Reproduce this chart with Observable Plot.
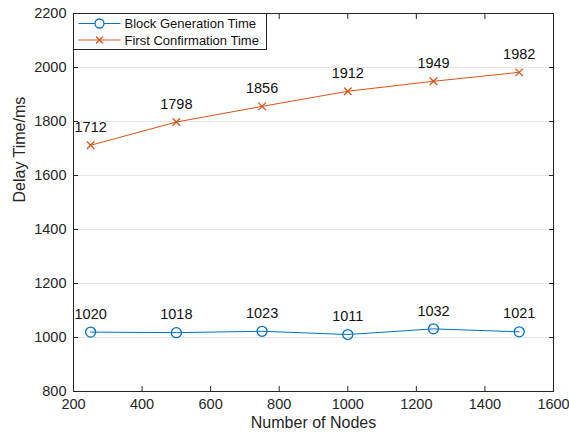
<!DOCTYPE html>
<html><head><meta charset="utf-8">
<script src="https://cdn.jsdelivr.net/npm/d3@7"></script>
<script src="https://cdn.jsdelivr.net/npm/@observablehq/plot@0.6"></script>
<style>body{margin:0;background:#fff;font-family:"Liberation Sans",Arial,sans-serif} svg{overflow:visible}</style>
</head><body><div id="chart"></div>
<script>
const nodes = [250, 500, 750, 1000, 1250, 1500];
const blockGen = [1020, 1018, 1023, 1011, 1032, 1021];
const firstConf = [1712, 1798, 1856, 1912, 1949, 1982];
const xTicks = [200, 400, 600, 800, 1000, 1200, 1400, 1600];
const yTicks = [800, 1000, 1200, 1400, 1600, 1800, 2000, 2200];
const seriesNames = ["Block Generation Time", "First Confirmation Time"];
const colors = ["#0072BD", "#D95319"];

const blue = nodes.map((n, i) => ({n, v: blockGen[i]}));
const orange = nodes.map((n, i) => ({n, v: firstConf[i]}));
const axisColor = "#262626";
const fmt = d => String(d);

const plot = Plot.plot({
  width: 569, height: 439,
  marginLeft: 73, marginRight: 16, marginTop: 13, marginBottom: 48,
  style: {fontFamily: "'Liberation Sans', Arial, sans-serif", fontSize: "14px", color: axisColor, background: "#fff", overflow: "visible"},
  x: {domain: [200, 1600]},
  y: {domain: [800, 2200]},
  marks: [
    Plot.gridY(yTicks, {stroke: "#e6e6e6", strokeOpacity: 1}),
    Plot.axisX(xTicks, {anchor: "bottom", tickSize: -5, tickPadding: 12, label: null, fontSize: 14.5, stroke: axisColor, tickFormat: fmt}),
    Plot.axisX(xTicks, {anchor: "top", tickSize: -5, label: null, tickFormat: () => "", stroke: axisColor}),
    Plot.axisY(yTicks, {anchor: "left", tickSize: -5, tickPadding: 12, label: null, fontSize: 14.5, stroke: axisColor, tickFormat: fmt}),
    Plot.axisY(yTicks, {anchor: "right", tickSize: -5, label: null, tickFormat: () => "", stroke: axisColor}),
    Plot.frame({stroke: axisColor, strokeWidth: 1}),
    Plot.line(blue, {x: "n", y: "v", stroke: colors[0], strokeWidth: 1}),
    Plot.dot(blue, {x: "n", y: "v", stroke: colors[0], fill: "none", r: 5, strokeWidth: 1.3}),
    Plot.line(orange, {x: "n", y: "v", stroke: colors[1], strokeWidth: 1}),
    Plot.dot(orange, {x: "n", y: "v", stroke: colors[1], symbol: "times", r: 3.5, strokeWidth: 1.3}),
    Plot.text(blue, {x: "n", y: "v", text: d => String(d.v), dy: -18, fontSize: 14.5, fill: "#111"}),
    Plot.text(orange, {x: "n", y: "v", text: d => String(d.v), dy: -18, fontSize: 14.5, fill: "#111"}),
    Plot.text(["Number of Nodes"], {frameAnchor: "bottom", dy: 36, fontSize: 16, fill: axisColor}),
    Plot.text(["Delay Time/ms"], {frameAnchor: "left", dx: -54, rotate: -90, fontSize: 16, fill: axisColor})
  ]
});
document.getElementById("chart").appendChild(plot);

// legend box inside top-left of plot
const svg = d3.select(plot);
const g = svg.append("g").attr("transform", "translate(73.5,13.5)").attr("text-anchor", "start");
g.append("rect").attr("width", 193).attr("height", 36).attr("fill", "#fff").attr("stroke", axisColor).attr("stroke-width", 1);
seriesNames.forEach((name, i) => {
  const y = 10 + i * 16.5;
  g.append("line").attr("x1", 5).attr("x2", 47).attr("y1", y).attr("y2", y).attr("stroke", colors[i]).attr("stroke-width", 1);
  if (i === 0) {
    g.append("circle").attr("cx", 26).attr("cy", y).attr("r", 4.5).attr("fill", "#fff").attr("stroke", colors[i]).attr("stroke-width", 1.3);
  } else {
    g.append("path").attr("d", `M22.5,${y-3.5}L29.5,${y+3.5}M22.5,${y+3.5}L29.5,${y-3.5}`).attr("stroke", colors[i]).attr("stroke-width", 1.3);
  }
  g.append("text").attr("x", 51).attr("y", y).attr("dy", "0.35em").attr("text-anchor", "start").attr("font-size", 13).attr("fill", "#111").text(name);
});
</script></body></html>
